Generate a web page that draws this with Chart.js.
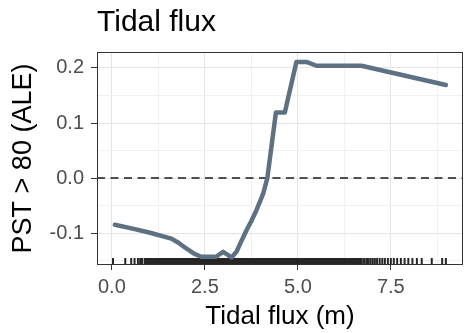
<!DOCTYPE html>
<html>
<head>
<meta charset="utf-8">
<script src="https://cdn.jsdelivr.net/npm/chart.js@4.4.0/dist/chart.umd.min.js"></script>
<style>
  html, body { margin: 0; padding: 0; background: #fff; }
  #wrap { width: 464px; height: 333px; }
</style>
</head>
<body>
<div id="wrap"><canvas id="myChart" width="464" height="333"></canvas></div>
<script>
// ALE curve for tidal flux
const fluxX = [0.08, 0.5, 1.0, 1.6, 1.8, 2.0, 2.2, 2.4, 2.8, 2.99, 3.22, 3.35, 3.5, 3.62, 3.75, 3.89, 4.07, 4.18, 4.41, 4.65, 4.96, 5.23, 5.5, 6.71, 8.98];
const aleY  = [-0.085, -0.091, -0.099, -0.110, -0.118, -0.128, -0.137, -0.143, -0.143, -0.134, -0.144, -0.134, -0.112, -0.095, -0.078, -0.058, -0.028, 0.0, 0.119, 0.119, 0.211, 0.211, 0.204, 0.204, 0.169];

// rug of observed tidal flux values
const rugX = [
  0.03, 0.36, 0.52, 0.61, 0.7, 0.76, 0.81, 0.88, 0.93, 0.97, 1.02, 1.07, 1.1, 1.15, 1.19, 1.23, 1.26, 1.3, 1.33, 1.36, 1.39,
  1.42, 1.46, 1.5, 1.55, 1.59, 1.63, 1.68, 1.72, 1.76, 1.81, 1.85, 1.89, 1.94, 1.98, 2.02, 2.07, 2.11, 2.15, 2.2, 2.24,
  2.28, 2.33, 2.37, 2.41, 2.46, 2.5, 2.54, 2.59, 2.63, 2.67, 2.72, 2.76, 2.8, 2.85, 2.89, 2.93, 2.98, 3.02, 3.06, 3.11,
  3.15, 3.19, 3.24, 3.28, 3.32, 3.37, 3.41, 3.45, 3.5, 3.54, 3.58, 3.63, 3.67, 3.71, 3.76, 3.8, 3.84, 3.89, 3.93, 3.97,
  4.02, 4.06, 4.1, 4.15, 4.19, 4.23, 4.28, 4.32, 4.36, 4.41, 4.45, 4.49, 4.54, 4.58, 4.62, 4.67, 4.71, 4.75, 4.8, 4.84,
  4.88, 4.93, 4.97, 5.01, 5.06, 5.1, 5.14, 5.19, 5.23, 5.27, 5.32, 5.36, 5.4, 5.45, 5.49, 5.53, 5.58, 5.62, 5.66, 5.71,
  5.75, 5.79, 5.84, 5.88, 5.92, 5.97, 6.01, 6.05, 6.1, 6.14, 6.18, 6.23, 6.27, 6.31, 6.36, 6.4, 6.44, 6.49, 6.53, 6.57,
  6.62, 6.67, 6.72, 6.78, 6.84, 6.89, 6.95, 7.01, 7.07, 7.13, 7.2, 7.27, 7.34, 7.42, 7.5, 7.58, 7.67, 7.77, 7.87, 7.97,
  8.08, 8.2, 8.33, 8.6, 8.88, 8.98
];

const xTicks = [0, 1.25, 2.5, 3.75, 5, 6.25, 7.5, 8.75];
const yTicks = [-0.15, -0.1, -0.05, 0, 0.05, 0.1, 0.15, 0.2];
const zeroLine = 0;

const xMin = -0.4, xMax = 9.44;
const yMin = -0.158, yMax = 0.229;
const rugTop = -0.1455;

function isMajor(v, step) {
  const r = v / step;
  return Math.abs(r - Math.round(r)) < 1e-6;
}

const panelPlugin = {
  id: 'panel',
  beforeDatasetsDraw(chart) {
    const { ctx, chartArea, scales } = chart;
    // dashed reference line at zero
    const y = scales.y.getPixelForValue(zeroLine);
    ctx.save();
    ctx.strokeStyle = '#1a1a1a';
    ctx.lineWidth = 1.6;
    ctx.setLineDash([8, 5.5]);
    ctx.beginPath();
    ctx.moveTo(chartArea.left, y);
    ctx.lineTo(chartArea.right, y);
    ctx.stroke();
    ctx.restore();

    // rug along the bottom
    const yTop = scales.y.getPixelForValue(rugTop);
    const yBot = chartArea.bottom - 1;
    ctx.save();
    ctx.strokeStyle = 'rgba(0,0,0,0.85)';
    ctx.lineWidth = 2;
    ctx.beginPath();
    rugX.forEach(v => {
      const px = scales.x.getPixelForValue(v);
      ctx.moveTo(px, yTop);
      ctx.lineTo(px, yBot);
    });
    ctx.stroke();
    ctx.restore();
  },
  afterDatasetsDraw(chart) {
    const { ctx, chartArea } = chart;
    ctx.save();
    ctx.strokeStyle = '#333';
    ctx.lineWidth = 1;
    ctx.strokeRect(chartArea.left + 0.5, chartArea.top + 0.5, chartArea.right - chartArea.left - 1, chartArea.bottom - chartArea.top - 1);
    ctx.restore();
  }
};

const ctx = document.getElementById('myChart').getContext('2d');
const myChart = new Chart(ctx, {
  type: 'scatter',
  data: {
    datasets: [
      {
        label: 'ALE',
        data: fluxX.map((x, i) => ({ x: x, y: aleY[i] })),
        showLine: true,
        borderColor: '#5d7183',
        borderWidth: 4.5,
        pointRadius: 0,
        tension: 0,
        borderJoinStyle: 'round',
        borderCapStyle: 'round'
      }
    ]
  },
  plugins: [panelPlugin],
  options: {
    responsive: false,
    animation: false,
    layout: { padding: { left: 0, right: 1, top: 0, bottom: 0 } },
    plugins: {
      legend: { display: false },
      tooltip: { enabled: false },
      title: {
        display: true,
        text: 'Tidal flux',
        align: 'start',
        fullSize: false,
        color: '#000',
        font: { family: '"Liberation Sans", Arial, sans-serif', size: 30, weight: 'normal' },
        padding: { top: 5, bottom: 11 }
      }
    },
    scales: {
      x: {
        type: 'linear',
        min: xMin,
        max: xMax,
        afterBuildTicks: (scale) => { scale.ticks = xTicks.map(v => ({ value: v })); },
        afterFit: (scale) => { scale.height = 68; },
        ticks: {
          autoSkip: false,
          maxRotation: 0,
          padding: 5,
          color: '#4d4d4d',
          font: { family: '"Liberation Sans", Arial, sans-serif', size: 20 },
          callback: (v) => isMajor(v, 2.5) ? v.toFixed(1) : ''
        },
        grid: {
          color: (c) => isMajor(c.tick.value, 2.5) ? '#e4e4e4' : '#f1f1f1',
          tickColor: (c) => isMajor(c.tick.value, 2.5) ? '#333' : 'rgba(0,0,0,0)',
          tickLength: 5,
          lineWidth: 1
        },
        border: { display: false },
        title: {
          display: true,
          text: 'Tidal flux (m)',
          color: '#000',
          font: { family: '"Liberation Sans", Arial, sans-serif', size: 26 },
          padding: { top: 0, bottom: 1 }
        }
      },
      y: {
        type: 'linear',
        min: yMin,
        max: yMax,
        afterBuildTicks: (scale) => { scale.ticks = yTicks.map(v => ({ value: v })); },
        afterFit: (scale) => { scale.width = 97; },
        ticks: {
          autoSkip: false,
          padding: 7,
          color: '#4d4d4d',
          font: { family: '"Liberation Sans", Arial, sans-serif', size: 20 },
          callback: (v) => isMajor(v, 0.1) ? v.toFixed(1) : ''
        },
        grid: {
          color: (c) => isMajor(c.tick.value, 0.1) ? '#e4e4e4' : '#f1f1f1',
          tickColor: (c) => isMajor(c.tick.value, 0.1) ? '#333' : 'rgba(0,0,0,0)',
          tickLength: 6,
          lineWidth: 1
        },
        border: { display: false },
        title: {
          display: true,
          text: 'PST > 80 (ALE)',
          color: '#000',
          font: { family: '"Liberation Sans", Arial, sans-serif', size: 27 },
          padding: { top: 7, bottom: 0 }
        }
      }
    }
  }
});
</script>
</body>
</html>
